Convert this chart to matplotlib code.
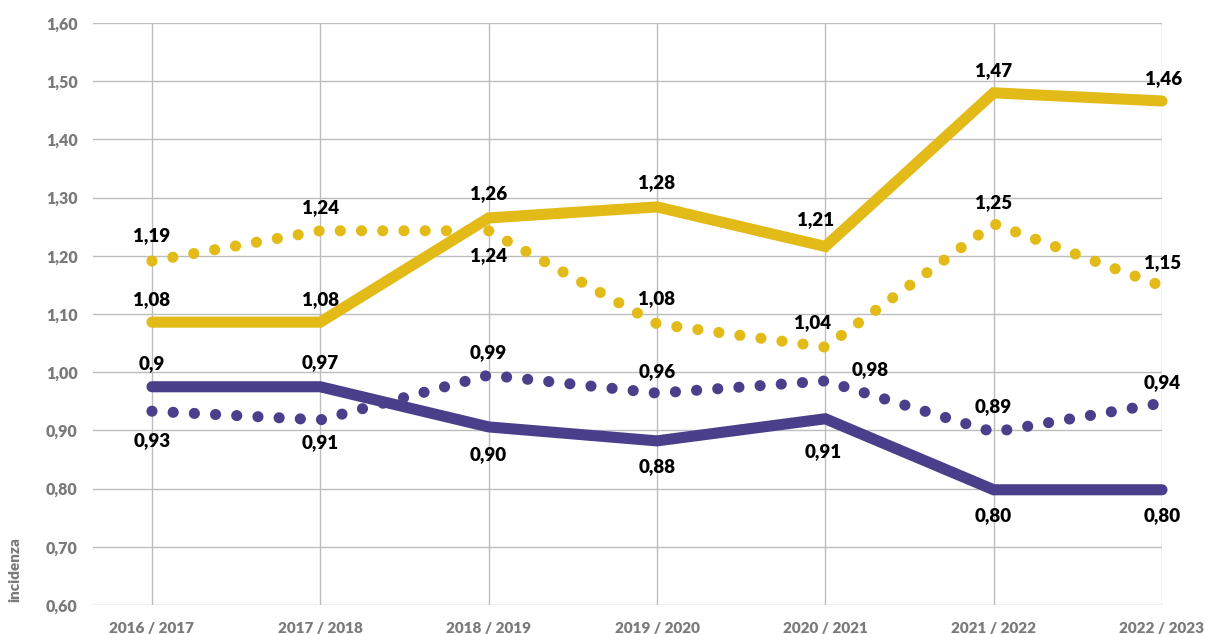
import matplotlib.pyplot as plt

seasons = ["2016 / 2017", "2017 / 2018", "2018 / 2019", "2019 / 2020",
           "2020 / 2021", "2021 / 2022", "2022 / 2023"]

# values as plotted and the labels printed next to them
yellow_solid = [1.086, 1.086, 1.265, 1.284, 1.216, 1.480, 1.466]
yellow_solid_lbl = ["1,08", "1,08", "1,26", "1,28", "1,21", "1,47", "1,46"]

yellow_dot = [1.191, 1.243, 1.243, 1.083, 1.043, 1.255, 1.148]
yellow_dot_lbl = ["1,19", "1,24", "1,24", "1,08", "1,04", "1,25", "1,15"]

purple_solid = [0.975, 0.975, 0.906, 0.882, 0.920, 0.798, 0.798]
purple_solid_lbl = ["0,9", "0,97", "0,90", "0,88", "0,91", "0,80", "0,80"]

purple_dot = [0.933, 0.918, 0.995, 0.964, 0.985, 0.897, 0.947]
purple_dot_lbl = ["0,93", "0,91", "0,99", "0,96", "0,98", "0,89", "0,94"]

yticks = [0.6, 0.7, 0.8, 0.9, 1.0, 1.1, 1.2, 1.3, 1.4, 1.5, 1.6]

YELLOW = "#E3BB18"
PURPLE = "#4A3F8A"
GRID = "#BDBDBD"
TICK = "#7A7A7A"

plt.rcParams['font.family'] = ['Lato', 'DejaVu Sans']

fig = plt.figure(figsize=(12.05, 6.34), dpi=100)
ax = fig.add_axes([93 / 1205, 29 / 634, (1162 - 93) / 1205, (605 - 23) / 634])

x = list(range(len(seasons)))

ax.plot(x, yellow_solid, color=YELLOW, lw=8, solid_capstyle='round',
        solid_joinstyle='miter', clip_on=False, zorder=3)
ax.plot(x, purple_solid, color=PURPLE, lw=8, solid_capstyle='round',
        solid_joinstyle='miter', clip_on=False, zorder=3)
ax.plot(x, yellow_dot, color=YELLOW, lw=8, linestyle=(0, (0.01, 1.9)),
        dash_capstyle='round', clip_on=False, zorder=3)
ax.plot(x, purple_dot, color=PURPLE, lw=8, linestyle=(0, (0.01, 1.9)),
        dash_capstyle='round', clip_on=False, zorder=3)

# label offsets in pixels (dx, dy), dy positive = upwards
off_ys = [(0, 23), (0, 23), (0, 24), (0, 24), (-10, 27), (0, 22), (2, 22)]
off_yd = [(0, 25), (0, 23), (0, -25), (0, 25), (-13, 25), (0, 21), (1, 23)]
off_ps = [(0, 23), (0, 24), (0, -28), (0, -26), (-2, -33), (0, -26), (0, -26)]
off_pd = [(0, -29), (0, -23), (0, 23), (0, 22), (45, 11), (0, 26), (0, 20)]

px = 72 / 100
for vals, lbls, offs in [(yellow_solid, yellow_solid_lbl, off_ys),
                         (yellow_dot, yellow_dot_lbl, off_yd),
                         (purple_solid, purple_solid_lbl, off_ps),
                         (purple_dot, purple_dot_lbl, off_pd)]:
    for i, (v, t) in enumerate(zip(vals, lbls)):
        ax.annotate(t, (i, v), xytext=(offs[i][0] * px, offs[i][1] * px),
                    textcoords='offset points', ha='center', va='center',
                    fontsize=13.5, fontweight='heavy', color='black',
                    annotation_clip=False, zorder=5)

ax.set_xlim(-0.35, 6)
ax.set_ylim(0.6, 1.6)
ax.set_xticks(x)
ax.set_xticklabels(seasons)
ax.set_yticks(yticks)
ax.set_yticklabels([f"{v:.2f}".replace(".", ",") for v in yticks])
ax.tick_params(length=0, labelsize=11.5, labelcolor=TICK, pad=11)
ax.tick_params(axis='x', labelsize=11, pad=12)
for lab in ax.get_xticklabels() + ax.get_yticklabels():
    lab.set_fontweight('heavy')

ax.grid(True, color=GRID, lw=1)
ax.set_axisbelow(True)
for s in ax.spines.values():
    s.set_visible(False)

fig.text(15 / 1205, 29 / 634 + 0.005, "incidenza", rotation=90, ha='center',
         va='bottom', fontsize=11, fontweight='heavy', color=TICK)

fig.savefig("out.png", dpi=100)
